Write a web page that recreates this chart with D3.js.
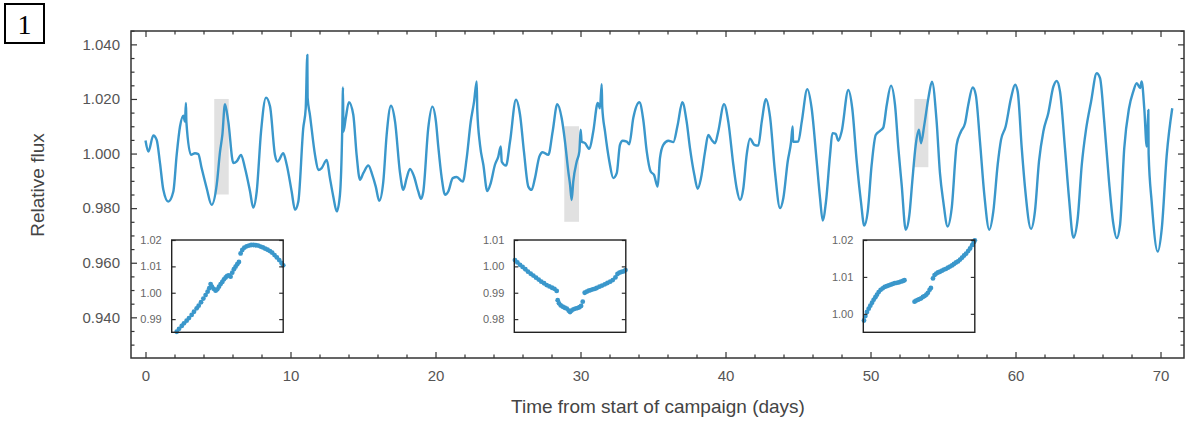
<!DOCTYPE html>
<html>
<head>
<meta charset="utf-8">
<script src="https://cdn.jsdelivr.net/npm/d3@7"></script>
<style>
  body { margin: 0; background: #fff; }
  svg { display: block; font-family: "Liberation Sans", Arial, sans-serif; }
  .tick text { fill: #555; }
  .tick line { stroke: #333; }
</style>
</head>
<body>
<svg id="chart" width="1185" height="422"></svg>
<script>
// light curve (days, relative flux)
const days = [0.0, 0.2, 0.54, 0.77, 1.0, 1.23, 1.57, 1.92, 2.15, 2.38, 2.61, 2.72, 2.79, 2.82, 3.14, 3.41, 3.64, 3.87, 4.22, 4.56, 4.91, 5.14, 5.3, 5.48, 5.71, 6.06, 6.29, 6.59, 6.86, 7.21, 7.43, 7.67, 7.97, 8.31, 8.59, 8.93, 9.11, 9.5, 9.74, 10.08, 10.31, 10.54, 10.88, 11.05, 11.16, 11.18, 11.34, 11.69, 11.92, 12.15, 12.5, 12.72, 12.95, 13.19, 13.41, 13.57, 13.62, 13.65, 13.81, 14.03, 14.33, 14.56, 14.79, 15.02, 15.37, 15.64, 15.88, 16.12, 16.4, 16.63, 16.93, 17.21, 17.55, 17.78, 18.01, 18.24, 18.52, 18.81, 19.0, 19.16, 19.5, 19.78, 20.03, 20.19, 20.43, 20.66, 20.88, 21.19, 21.46, 21.88, 22.15, 22.43, 22.66, 22.84, 22.88, 23.07, 23.3, 23.57, 23.81, 24.1, 24.33, 24.5, 24.57, 24.86, 25.14, 25.55, 25.83, 26.1, 26.4, 26.63, 26.86, 27.16, 27.39, 27.78, 28.08, 28.4, 28.7, 28.93, 29.16, 29.28, 29.39, 29.5, 29.74, 29.92, 30.01, 30.08, 30.31, 30.61, 30.88, 31.19, 31.34, 31.46, 31.5, 31.69, 31.99, 32.26, 32.5, 32.72, 32.91, 33.19, 33.36, 33.64, 34.06, 34.33, 34.57, 34.84, 35.07, 35.32, 35.48, 35.71, 36.06, 36.4, 36.7, 37.02, 37.32, 37.55, 37.85, 38.08, 38.31, 38.59, 38.81, 39.05, 39.28, 39.5, 39.9, 40.19, 40.54, 40.77, 41.0, 41.23, 41.46, 41.69, 41.99, 42.26, 42.5, 42.79, 43.07, 43.41, 43.76, 43.99, 44.29, 44.52, 44.63, 44.66, 45.02, 45.26, 45.64, 45.94, 46.29, 46.52, 46.7, 46.93, 47.21, 47.37, 47.6, 47.78, 48.01, 48.47, 48.74, 49.05, 49.34, 49.57, 49.81, 50.08, 50.36, 50.66, 50.88, 51.12, 51.41, 51.69, 51.92, 52.15, 52.43, 52.68, 52.88, 53.12, 53.34, 53.48, 53.71, 53.99, 54.24, 54.56, 54.79, 55.02, 55.32, 55.6, 55.94, 56.24, 56.52, 56.74, 57.05, 57.26, 57.55, 57.85, 58.19, 58.47, 58.77, 59.0, 59.32, 59.69, 59.97, 60.15, 60.43, 60.66, 61.07, 61.34, 61.62, 61.92, 62.26, 62.61, 62.84, 63.07, 63.41, 63.69, 63.99, 64.29, 64.57, 64.86, 65.21, 65.6, 65.83, 66.12, 66.45, 66.74, 66.98, 67.21, 67.5, 67.83, 68.12, 68.36, 68.59, 68.7, 68.88, 69.05, 69.16, 69.18, 69.39, 69.81, 70.09, 70.43, 70.81];
const flux = [1.0048, 1.0007, 1.0066, 1.0050, 0.9965, 0.9867, 0.9824, 0.9861, 0.9995, 1.0099, 1.0139, 1.0117, 1.0185, 1.0115, 0.9995, 1.0001, 0.9998, 0.9947, 0.9873, 0.9812, 0.9885, 1.0007, 1.0068, 1.0181, 1.0117, 0.9965, 0.9971, 0.9995, 0.9947, 0.9861, 0.9802, 0.9861, 1.0081, 1.0205, 1.0172, 0.9995, 0.9971, 1.0001, 0.9959, 0.9861, 0.9794, 0.9824, 1.0093, 1.0166, 1.0361, 1.0205, 1.0142, 0.9995, 0.9940, 0.9947, 0.9977, 0.9910, 0.9843, 0.9788, 0.9849, 1.0093, 1.0242, 1.0080, 1.0130, 1.0188, 1.0142, 0.9995, 0.9904, 0.9928, 0.9956, 0.9922, 0.9879, 0.9827, 0.9897, 1.0068, 1.0175, 1.0117, 0.9930, 0.9867, 0.9910, 0.9944, 0.9916, 0.9861, 0.9834, 0.9861, 1.0093, 1.0172, 1.0117, 1.0026, 0.9910, 0.9849, 0.9861, 0.9910, 0.9914, 0.9897, 0.9983, 1.0117, 1.0190, 1.0264, 1.0160, 1.0032, 0.9959, 0.9863, 0.9892, 0.9959, 0.9989, 1.0026, 0.9970, 0.9956, 1.0044, 1.0197, 1.0142, 1.0007, 0.9879, 0.9867, 0.9910, 0.9989, 1.0005, 0.9995, 1.0081, 1.0181, 1.0130, 1.0044, 0.9934, 0.9885, 0.9830, 0.9897, 0.9971, 1.0007, 1.0087, 1.0044, 1.0038, 1.0017, 1.0081, 1.0185, 1.0166, 1.0254, 1.0170, 1.0081, 0.9971, 0.9910, 0.9928, 1.0032, 1.0047, 1.0044, 1.0034, 1.0130, 1.0188, 1.0123, 1.0007, 0.9934, 0.9922, 0.9879, 0.9983, 1.0032, 1.0047, 1.0042, 1.0105, 1.0188, 1.0117, 1.0020, 0.9922, 0.9871, 0.9910, 1.0007, 1.0068, 1.0050, 1.0038, 1.0081, 1.0181, 1.0117, 0.9959, 0.9873, 0.9830, 0.9873, 0.9995, 1.0054, 1.0032, 1.0029, 1.0117, 1.0199, 1.0135, 0.9934, 0.9800, 0.9837, 0.9971, 1.0042, 1.0099, 1.0043, 1.0044, 1.0117, 1.0236, 1.0166, 0.9971, 0.9837, 0.9755, 0.9824, 0.9995, 1.0075, 1.0072, 1.0047, 1.0081, 1.0233, 1.0166, 0.9971, 0.9824, 0.9736, 0.9788, 0.9959, 1.0068, 1.0083, 1.0095, 1.0178, 1.0249, 1.0178, 1.0020, 0.9885, 0.9721, 0.9775, 0.9897, 1.0032, 1.0087, 1.0038, 1.0105, 1.0203, 1.0263, 1.0117, 0.9928, 0.9824, 0.9733, 0.9800, 1.0032, 1.0081, 1.0111, 1.0178, 1.0242, 1.0215, 1.0044, 0.9849, 0.9721, 0.9788, 0.9959, 1.0050, 1.0099, 1.0203, 1.0252, 1.0227, 1.0020, 0.9873, 0.9724, 0.9788, 0.9971, 1.0081, 1.0148, 1.0245, 1.0266, 1.0227, 1.0020, 0.9837, 0.9692, 0.9763, 0.9959, 1.0087, 1.0190, 1.0294, 1.0276, 1.0117, 0.9897, 0.9745, 0.9690, 0.9739, 1.0020, 1.0166, 1.0227, 1.0258, 1.0240, 1.0264, 1.0166, 1.0026, 1.0160, 1.0000, 0.9824, 0.9641, 0.9727, 0.9995, 1.0166];

// zoomed windows: [day0, day1, flux0, flux1]
const windows = [
  [4.74, 5.74, 0.985, 1.020],
  [28.88, 29.90, 0.975, 1.010],
  [53.02, 53.99, 0.995, 1.020]
];
const insetTicks = [
  [0.99, 1.00, 1.01, 1.02],
  [0.98, 0.99, 1.00, 1.01],
  [1.00, 1.01, 1.02]
];

// inset cadence points
const inset1Days = [4.785, 4.806, 4.830, 4.850, 4.874, 4.895, 4.919, 4.940, 4.964, 4.982, 5.003, 5.024, 5.044, 5.062, 5.077, 5.089, 5.101, 5.116, 5.134, 5.149, 5.164, 5.179, 5.194, 5.209, 5.224, 5.238, 5.253, 5.268, 5.283, 5.298, 5.313, 5.328, 5.343, 5.358, 5.373, 5.391, 5.412, 5.433, 5.453, 5.474, 5.495, 5.516, 5.537, 5.558, 5.579, 5.600, 5.621, 5.641, 5.662, 5.683, 5.704, 5.725, 5.740];
const inset1Flux = [0.9852, 0.9863, 0.9874, 0.9884, 0.9894, 0.9904, 0.9916, 0.9928, 0.9941, 0.9951, 0.9964, 0.9978, 0.9991, 1.0004, 1.0017, 1.0033, 1.0023, 1.0015, 1.0008, 1.0013, 1.0023, 1.0033, 1.0041, 1.0051, 1.0058, 1.0064, 1.0066, 1.0061, 1.0076, 1.0089, 1.0099, 1.0108, 1.0117, 1.0149, 1.0162, 1.0171, 1.0176, 1.0179, 1.0181, 1.0181, 1.0180, 1.0179, 1.0175, 1.0172, 1.0167, 1.0163, 1.0158, 1.0152, 1.0143, 1.0134, 1.0124, 1.0113, 1.0104];
const inset2Days = [28.886, 28.908, 28.932, 28.956, 28.981, 29.005, 29.030, 29.054, 29.079, 29.103, 29.127, 29.152, 29.176, 29.201, 29.225, 29.247, 29.268, 29.277, 29.289, 29.305, 29.323, 29.341, 29.360, 29.378, 29.390, 29.402, 29.421, 29.439, 29.457, 29.476, 29.491, 29.506, 29.524, 29.543, 29.561, 29.579, 29.598, 29.616, 29.634, 29.659, 29.683, 29.708, 29.732, 29.757, 29.781, 29.805, 29.824, 29.842, 29.860, 29.879, 29.897];
const inset2Flux = [1.0024, 1.0015, 1.0006, 0.9998, 0.9989, 0.9980, 0.9972, 0.9965, 0.9957, 0.9950, 0.9942, 0.9936, 0.9929, 0.9924, 0.9919, 0.9915, 0.9907, 0.9872, 0.9860, 0.9852, 0.9847, 0.9843, 0.9840, 0.9832, 0.9827, 0.9832, 0.9837, 0.9840, 0.9842, 0.9845, 0.9850, 0.9866, 0.9900, 0.9904, 0.9908, 0.9910, 0.9913, 0.9915, 0.9918, 0.9923, 0.9927, 0.9932, 0.9937, 0.9942, 0.9948, 0.9958, 0.9971, 0.9976, 0.9979, 0.9981, 0.9986];
const inset3Days = [53.026, 53.038, 53.052, 53.067, 53.081, 53.096, 53.110, 53.125, 53.139, 53.154, 53.171, 53.189, 53.206, 53.224, 53.241, 53.259, 53.276, 53.294, 53.311, 53.329, 53.346, 53.364, 53.378, 53.466, 53.480, 53.495, 53.509, 53.524, 53.539, 53.553, 53.568, 53.582, 53.597, 53.608, 53.626, 53.640, 53.655, 53.670, 53.687, 53.705, 53.722, 53.740, 53.757, 53.774, 53.792, 53.809, 53.827, 53.844, 53.862, 53.879, 53.897, 53.914, 53.932, 53.949, 53.967, 53.981, 53.990];
const inset3Flux = [0.9982, 0.9994, 1.0005, 1.0014, 1.0022, 1.0030, 1.0038, 1.0045, 1.0052, 1.0059, 1.0065, 1.0069, 1.0073, 1.0075, 1.0077, 1.0079, 1.0081, 1.0083, 1.0084, 1.0085, 1.0087, 1.0089, 1.0091, 1.0033, 1.0036, 1.0038, 1.0040, 1.0042, 1.0046, 1.0048, 1.0052, 1.0057, 1.0065, 1.0070, 1.0096, 1.0105, 1.0109, 1.0112, 1.0114, 1.0117, 1.0120, 1.0122, 1.0125, 1.0128, 1.0131, 1.0135, 1.0139, 1.0142, 1.0147, 1.0152, 1.0158, 1.0163, 1.0170, 1.0177, 1.0186, 1.0194, 1.0199];

const xTicks = [0, 10, 20, 30, 40, 50, 60, 70];
const yTicks = [0.94, 0.96, 0.98, 1.00, 1.02, 1.04];

const blue = '#3a97cb';
const svg = d3.select('#chart');
const plotL = 131, plotR = 1184, plotT = 31, plotB = 358;

const x = d3.scaleLinear().domain([-1, 71.62]).range([plotL, plotR]);
const y = d3.scaleLinear().domain([0.9251, 1.0449]).range([plotB, plotT]);

// panel label
svg.append('rect')
  .attr('x', 5).attr('y', 4).attr('width', 39).attr('height', 39)
  .attr('fill', 'none').attr('stroke', '#000').attr('stroke-width', 2);
svg.append('text')
  .attr('x', 24.5).attr('y', 34)
  .attr('text-anchor', 'middle')
  .style('font-family', '"Liberation Serif", "DejaVu Serif", serif')
  .style('font-size', '28px')
  .text('1');

// shaded zoom windows
svg.append('g').selectAll('rect')
  .data(windows)
  .join('rect')
  .attr('x', d => x(d[0]))
  .attr('width', d => x(d[1]) - x(d[0]))
  .attr('y', d => y(d[3]))
  .attr('height', d => y(d[2]) - y(d[3]))
  .attr('fill', '#e1e1e1');

// light curve
const points = days.map((d, i) => [d, flux[i]]);
const line = d3.line()
  .x(d => x(d[0]))
  .y(d => y(d[1]))
  .curve(d3.curveMonotoneX);
svg.append('path')
  .datum(points)
  .attr('d', line)
  .attr('fill', 'none')
  .attr('stroke', blue)
  .attr('stroke-width', 2.4)
  .attr('stroke-linejoin', 'round');

// axes
const minorX = d3.range(0, 72, 2).filter(v => v % 10 !== 0);
const minorY = d3.range(0.930, 1.0451, 0.005).filter(v => Math.round(v * 1000) % 20 !== 0);

function addAxis(axis, tx, ty, size, showLabels, fontSize) {
  const g = svg.append('g').attr('transform', `translate(${tx},${ty})`).call(axis.tickSize(size));
  g.select('.domain').remove();
  g.selectAll('.tick line').attr('stroke-width', 1.2);
  if (showLabels) g.selectAll('text').style('font-size', fontSize + 'px');
  return g;
}

addAxis(d3.axisBottom(x).tickValues(xTicks).tickFormat(d3.format('d')).tickPadding(12), 0, plotB, -6, true, 15);
addAxis(d3.axisBottom(x).tickValues(minorX).tickFormat(''), 0, plotB, -3.5, false);
addAxis(d3.axisTop(x).tickValues(xTicks).tickFormat(''), 0, plotT, -6, false);
addAxis(d3.axisTop(x).tickValues(minorX).tickFormat(''), 0, plotT, -3.5, false);
addAxis(d3.axisLeft(y).tickValues(yTicks).tickFormat(d3.format('.3f')).tickPadding(11), plotL, 0, -6, true, 15);
addAxis(d3.axisLeft(y).tickValues(minorY).tickFormat(''), plotL, 0, -3.5, false);
addAxis(d3.axisRight(y).tickValues(yTicks).tickFormat(''), plotR, 0, -6, false);
addAxis(d3.axisRight(y).tickValues(minorY).tickFormat(''), plotR, 0, -3.5, false);

svg.append('rect')
  .attr('x', plotL).attr('y', plotT)
  .attr('width', plotR - plotL).attr('height', plotB - plotT)
  .attr('fill', 'none').attr('stroke', '#333').attr('stroke-width', 1.5);

svg.append('text')
  .attr('x', 658).attr('y', 413)
  .attr('text-anchor', 'middle')
  .style('font-size', '19px').style('fill', '#444')
  .text('Time from start of campaign (days)');
svg.append('text')
  .attr('transform', 'translate(44,185) rotate(-90)')
  .attr('text-anchor', 'middle')
  .style('font-size', '19px').style('fill', '#444')
  .text('Relative flux');

// insets
const insetBoxes = [171.7, 514.3, 863.3];
const insetW = 111.5, insetH = 92.3, insetTop = 240;
const insetData = [
  [inset1Days, inset1Flux],
  [inset2Days, inset2Flux],
  [inset3Days, inset3Flux]
];

insetBoxes.forEach((bx, k) => {
  const w = windows[k];
  const ix = d3.scaleLinear().domain([w[0], w[1]]).range([0, insetW]);
  const iy = d3.scaleLinear().domain([w[2], w[3]]).range([insetH, 0]);
  const g = svg.append('g').attr('transform', `translate(${bx},${insetTop})`);

  g.append('rect')
    .attr('width', insetW).attr('height', insetH)
    .attr('fill', '#fff');

  const [ds, fs] = insetData[k];
  g.append('g').selectAll('circle')
    .data(ds.map((d, i) => [d, fs[i]]))
    .join('circle')
    .attr('cx', d => ix(d[0]))
    .attr('cy', d => iy(d[1]))
    .attr('r', 2.4)
    .attr('fill', blue);

  const la = g.append('g').call(d3.axisLeft(iy).tickValues(insetTicks[k]).tickFormat(d3.format('.2f')).tickSize(-4).tickPadding(10));
  la.select('.domain').remove();
  la.selectAll('text').style('font-size', '11px').style('fill', '#666');
  const ra = g.append('g').attr('transform', `translate(${insetW},0)`)
    .call(d3.axisRight(iy).tickValues(insetTicks[k]).tickFormat('').tickSize(-4));
  ra.select('.domain').remove();
  g.selectAll('.tick line').attr('stroke-width', 1.2);

  g.append('rect')
    .attr('width', insetW).attr('height', insetH)
    .attr('fill', 'none').attr('stroke', '#222').attr('stroke-width', 1.4);
});
</script>
</body>
</html>
